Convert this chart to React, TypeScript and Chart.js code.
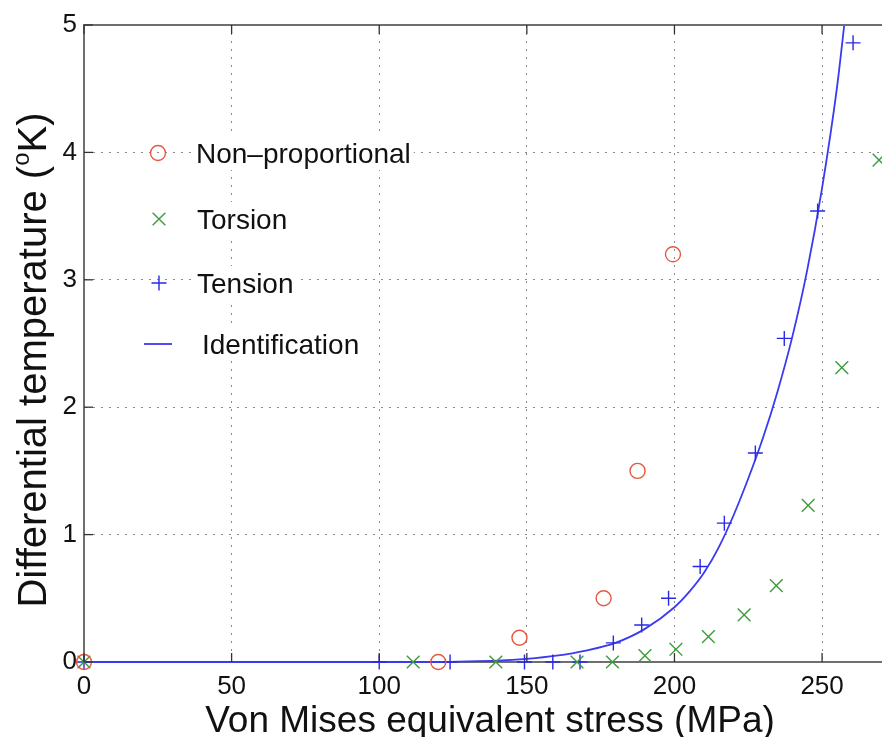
import React, { useEffect, useRef } from "react";
import { Chart, registerables } from "chart.js";

Chart.register(...registerables);

// ---------- data ----------
const nonPropX = [0, 120, 147.5, 176, 187.5, 199.5];
const nonPropY = [0, 0, 0.19, 0.5, 1.5, 3.2];

const torsionX = [0, 111.5, 139.5, 167, 179, 190, 200.5, 211.5, 223.6, 234.5, 245.3, 256.7, 269.3];
const torsionY = [0, 0, 0, 0, 0, 0.05, 0.1, 0.2, 0.37, 0.6, 1.23, 2.31, 3.94];

const tensionX = [0, 100, 124, 149.2, 158.8, 168, 179.3, 188.9, 198, 208.7, 216.9, 227.4, 237.2, 248.5, 260.5];
const tensionY = [0, 0, 0, 0, 0, 0, 0.15, 0.29, 0.5, 0.75, 1.09, 1.64, 2.54, 3.54, 4.86];

const identX = [0, 100, 120, 130, 140, 150, 160, 170, 180, 190, 200, 205, 210, 215, 220, 225, 230, 235, 240, 245, 250, 255, 258];
const identY = [0, 0, 0, 0.005, 0.01, 0.025, 0.05, 0.09, 0.15, 0.26, 0.43, 0.55, 0.7, 0.9, 1.15, 1.44, 1.76, 2.13, 2.56, 3.08, 3.72, 4.5, 5.1];

const xTicks = [0, 50, 100, 150, 200, 250];
const yTicks = [0, 1, 2, 3, 4, 5];

const legendLabels = ["Non\u2013proportional", "Torsion", "Tension", "Identification"];
const xTitle = "Von Mises equivalent stress (MPa)";
const yTitleMain = "Differential temperature (";
const yTitleSup = "o";
const yTitleEnd = "K)";

// ---------- styles ----------
const FONT = '"Liberation Sans", Arial, Helvetica, sans-serif';
const RED = "#e4583f";
const GREEN = "#3d9b3d";
const BLUE = "#2a2ae6";
const LINE_BLUE = "#3a3af0";
const GRID = "#8a8a8a";
const AXIS = "#6f6f6f";
const TICK = "#333333";
const TEXT = "#111111";
const PLOT_RIGHT = 882;

const toPts = (xs: number[], ys: number[]) => xs.map((x, i) => ({ x, y: ys[i] }));

function drawMarker(ctx: CanvasRenderingContext2D, kind: string, x: number, y: number, r: number, color: string) {
  ctx.save();
  ctx.strokeStyle = color;
  ctx.lineWidth = 1.4;
  ctx.beginPath();
  if (kind === "circle") {
    ctx.arc(x, y, r, 0, Math.PI * 2);
  } else if (kind === "crossRot") {
    const d = r * Math.SQRT1_2;
    ctx.moveTo(x - d, y - d);
    ctx.lineTo(x + d, y + d);
    ctx.moveTo(x - d, y + d);
    ctx.lineTo(x + d, y - d);
  } else if (kind === "cross") {
    ctx.moveTo(x - r, y);
    ctx.lineTo(x + r, y);
    ctx.moveTo(x, y - r);
    ctx.lineTo(x, y + r);
  } else {
    ctx.lineWidth = 1.8;
    ctx.moveTo(x - 14, y);
    ctx.lineTo(x + 14, y);
  }
  ctx.stroke();
  ctx.restore();
}

const decorPlugin = {
  id: "decor",
  afterLayout(chart: any) {
    // let the axes run to the right edge of the picture (the reference is cropped there)
    const xs = chart.scales.x;
    xs.right = PLOT_RIGHT;
    xs.width = PLOT_RIGHT - xs.left;
    xs.configure();
    chart.chartArea.right = PLOT_RIGHT;
    chart.chartArea.width = PLOT_RIGHT - chart.chartArea.left;
  },
  afterDraw(chart: any) {
    const { ctx, chartArea: a, scales } = chart;
    const xs = scales.x;
    const ys = scales.y;
    ctx.save();

    // top box line
    ctx.strokeStyle = AXIS;
    ctx.lineWidth = 2;
    ctx.beginPath();
    ctx.moveTo(a.left - 1, a.top);
    ctx.lineTo(a.right, a.top);
    ctx.stroke();

    // inward tick marks
    ctx.strokeStyle = TICK;
    ctx.lineWidth = 1.3;
    xTicks.forEach((v) => {
      const px = xs.getPixelForValue(v);
      ctx.beginPath();
      ctx.moveTo(px, a.bottom);
      ctx.lineTo(px, a.bottom - 9);
      ctx.moveTo(px, a.top);
      ctx.lineTo(px, a.top + 9);
      ctx.stroke();
    });
    yTicks.forEach((v) => {
      const py = ys.getPixelForValue(v);
      ctx.beginPath();
      ctx.moveTo(a.left, py);
      ctx.lineTo(a.left + 9, py);
      ctx.stroke();
    });

    // x title
    ctx.fillStyle = TEXT;
    ctx.font = `37px ${FONT}`;
    ctx.textAlign = "center";
    ctx.textBaseline = "alphabetic";
    ctx.fillText(xTitle, 490, 732);

    // y title (rotated, with superscript)
    const mainFont = `40px ${FONT}`;
    const supFont = `24px ${FONT}`;
    ctx.font = mainFont;
    const w1 = ctx.measureText(yTitleMain).width;
    const w3 = ctx.measureText(yTitleEnd).width;
    ctx.font = supFont;
    const w2 = ctx.measureText(yTitleSup).width;
    const total = w1 + w2 + w3;
    ctx.translate(46, 360);
    ctx.rotate(-Math.PI / 2);
    ctx.textAlign = "left";
    let cx = -total / 2;
    ctx.font = mainFont;
    ctx.fillText(yTitleMain, cx, 0);
    cx += w1;
    ctx.font = supFont;
    ctx.fillText(yTitleSup, cx, -17);
    cx += w2;
    ctx.font = mainFont;
    ctx.fillText(yTitleEnd, cx, 0);
    ctx.restore();

    // legend inside axes
    ctx.save();
    const rows = [
      { kind: "circle", color: RED, r: 7.5, mx: 158, y: 153, tx: 196 },
      { kind: "crossRot", color: GREEN, r: 9, mx: 159, y: 219, tx: 197 },
      { kind: "cross", color: BLUE, r: 7.5, mx: 159, y: 283, tx: 197 },
      { kind: "line", color: LINE_BLUE, r: 0, mx: 158, y: 344, tx: 202 },
    ];
    ctx.font = `28px ${FONT}`;
    ctx.textAlign = "left";
    ctx.textBaseline = "middle";
    rows.forEach((row, i) => {
      const label = legendLabels[i];
      const w = ctx.measureText(label).width;
      ctx.fillStyle = "#ffffff";
      ctx.fillRect(row.tx - 3, row.y - 17, w + 6, 34);
      drawMarker(ctx, row.kind, row.mx, row.y, row.r, row.color);
      ctx.fillStyle = TEXT;
      ctx.fillText(label, row.tx, row.y + 2);
    });
    ctx.restore();
  },
};

export default function App() {
  const ref = useRef<HTMLCanvasElement | null>(null);

  useEffect(() => {
    document.body.style.margin = "0";
    const canvas = ref.current;
    if (!canvas) return;
    const chart = new Chart(canvas, {
      type: "scatter",
      data: {
        datasets: [
          {
            label: legendLabels[0],
            data: toPts(nonPropX, nonPropY),
            pointStyle: "circle",
            pointRadius: 7.5,
            pointBorderColor: RED,
            pointBackgroundColor: "rgba(0,0,0,0)",
            pointBorderWidth: 1.4,
            showLine: false,
            clip: false,
          } as any,
          {
            label: legendLabels[1],
            data: toPts(torsionX, torsionY),
            pointStyle: "crossRot",
            pointRadius: 9,
            pointBorderColor: GREEN,
            pointBackgroundColor: GREEN,
            pointBorderWidth: 1.4,
            showLine: false,
            clip: false,
          } as any,
          {
            label: legendLabels[2],
            data: toPts(tensionX, tensionY),
            pointStyle: "cross",
            pointRadius: 7.5,
            pointBorderColor: BLUE,
            pointBackgroundColor: BLUE,
            pointBorderWidth: 1.4,
            showLine: false,
            clip: false,
          } as any,
          {
            label: legendLabels[3],
            data: toPts(identX, identY),
            showLine: true,
            pointRadius: 0,
            borderColor: LINE_BLUE,
            borderWidth: 1.8,
            cubicInterpolationMode: "monotone",
            fill: false,
            clip: { left: 0, top: 0, right: 0, bottom: 4 },
          } as any,
        ],
      },
      options: {
        animation: false,
        responsive: false,
        events: [],
        layout: { padding: { top: 25, left: 0, right: 0, bottom: 0 } },
        plugins: {
          legend: { display: false },
          tooltip: { enabled: false },
          title: { display: false },
        },
        scales: {
          x: {
            type: "linear",
            min: 0,
            max: 270.3,
            afterBuildTicks: (s: any) => {
              s.ticks = xTicks.map((v) => ({ value: v }));
            },
            afterFit: (s: any) => {
              s.height = 75;
              s.paddingLeft = 0;
              s.paddingRight = 0;
            },
            grid: { color: GRID, lineWidth: 1, drawTicks: false },
            border: { display: true, color: AXIS, width: 2, dash: [2, 6] },
            ticks: {
              font: { family: FONT, size: 26 },
              color: TEXT,
              padding: 9,
              maxRotation: 0,
              autoSkip: false,
            },
          },
          y: {
            type: "linear",
            min: 0,
            max: 5,
            afterBuildTicks: (s: any) => {
              s.ticks = yTicks.map((v) => ({ value: v }));
            },
            afterFit: (s: any) => {
              s.width = 84;
              s.paddingTop = 0;
              s.paddingBottom = 0;
            },
            grid: { color: GRID, lineWidth: 1, drawTicks: false },
            border: { display: true, color: AXIS, width: 2, dash: [2, 6] },
            ticks: {
              font: { family: FONT, size: 26 },
              color: TEXT,
              padding: 7,
              autoSkip: false,
            },
          },
        },
      },
      plugins: [decorPlugin],
    } as any);
    return () => chart.destroy();
  }, []);

  return (
    <div style={{ position: "absolute", left: 0, top: 0, width: 882, height: 737, background: "#ffffff", overflow: "hidden" }}>
      <canvas ref={ref} width={882} height={737} style={{ display: "block" }} />
    </div>
  );
}
